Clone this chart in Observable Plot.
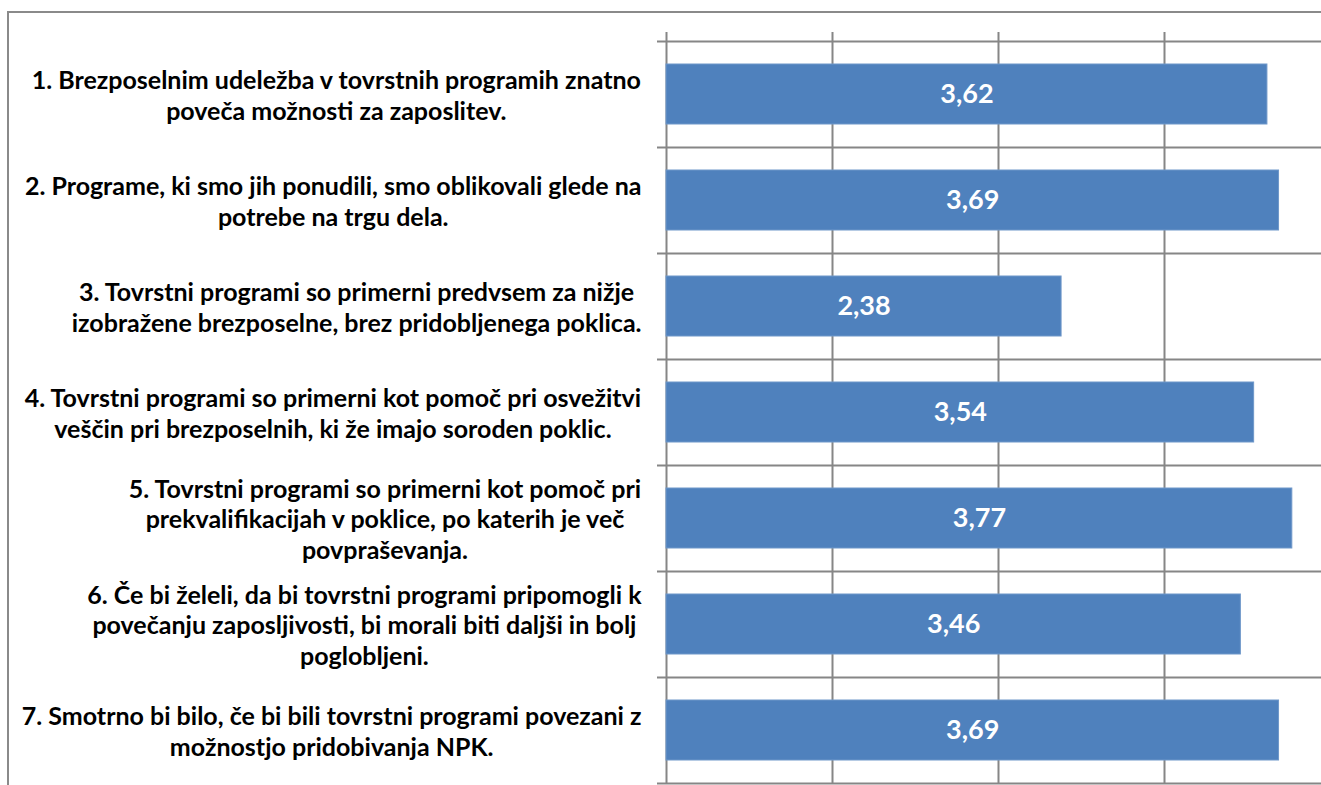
<!DOCTYPE html>
<html>
<head>
<meta charset="utf-8">
<script src="https://cdn.jsdelivr.net/npm/d3@7"></script>
<script src="https://cdn.jsdelivr.net/npm/@observablehq/plot@0.6"></script>
<style>
  html, body { margin: 0; padding: 0; background: #fff; }
  #wrap { position: relative; width: 1321px; height: 785px; overflow: hidden; }
  #border { position: absolute; left: 7px; top: 11px; right: -10px; bottom: -10px;
            border-left: 2px solid #8a8a8a; border-top: 2px solid #8a8a8a; }
  #chart { position: absolute; left: 0; top: 0; }
  svg text { font-family: Lato, "Open Sans", sans-serif; }
</style>
</head>
<body>
<div id="wrap"><div id="border"></div><div id="chart"></div></div>
<script>
const statements = [
  "1. Brezposelnim udeležba v tovrstnih programih znatno\npoveča možnosti za zaposlitev.",
  "2. Programe, ki smo jih ponudili, smo oblikovali glede na\npotrebe na trgu dela.",
  "3. Tovrstni programi so primerni predvsem za nižje\nizobražene brezposelne, brez pridobljenega poklica.",
  "4. Tovrstni programi so primerni kot pomoč pri osvežitvi\nveščin pri brezposelnih, ki že imajo soroden poklic.",
  "5. Tovrstni programi so primerni kot pomoč pri\nprekvalifikacijah v poklice, po katerih je več\npovpraševanja.",
  "6. Če bi želeli, da bi tovrstni programi pripomogli k\npovečanju zaposljivosti, bi morali biti daljši in bolj\npoglobljeni.",
  "7. Smotrno bi bilo, če bi bili tovrstni programi povezani z\nmožnostjo pridobivanja NPK."
];
const scores = [3.62, 3.69, 2.38, 3.54, 3.77, 3.46, 3.69];
const gridTicks = [0, 1, 2, 3, 4];

const data = statements.map((s, i) => ({statement: s, score: scores[i]}));

const labelSize = 25;
const ctx = document.createElement("canvas").getContext("2d");
ctx.font = `bold ${labelSize}px Lato`;
const blockWidth = s => Math.max(...s.split("\n").map(l => ctx.measureText(l).width));

const labelMarks = data.map(d => Plot.text([d], {
  x: () => 0, y: "statement", text: "statement",
  textAnchor: "middle", lineHeight: 1.22,
  dx: -25 - blockWidth(d.statement) / 2,
  fontSize: labelSize, fontWeight: "bold", fill: "#000"
}));

const chart = Plot.plot({
  width: 1321, height: 785,
  marginLeft: 666, marginRight: 0, marginTop: 41, marginBottom: 2,
  x: {domain: [0, 4], range: [666, 1330], axis: null},
  y: {domain: statements, range: [41, 783], paddingInner: 0.434, paddingOuter: 0.217, axis: null},
  style: {fontFamily: "Lato, sans-serif"},
  marks: [
    Plot.ruleX(gridTicks, {stroke: "#868686", strokeWidth: 2, insetTop: -9, strokeOpacity: 1}),
    Plot.ruleY(statements, {y: d => d, dy: -53, stroke: "#868686", strokeWidth: 2, insetLeft: -9, strokeOpacity: 1}),
    Plot.ruleY(statements.slice(-1), {y: d => d, dy: 53, stroke: "#868686", strokeWidth: 2, insetLeft: -9, strokeOpacity: 1}),
    Plot.barX(data, {x: "score", y: "statement", fill: "#4f81bd", stroke: "#6f97c9", strokeWidth: 1}),
    Plot.text(data, {x: d => d.score / 2, y: "statement", text: d => d.score.toFixed(2).replace(".", ","),
      fill: "white", fontSize: 27, fontWeight: "bold"}),
    ...labelMarks
  ]
});
document.getElementById("chart").appendChild(chart);
</script>
</body>
</html>
